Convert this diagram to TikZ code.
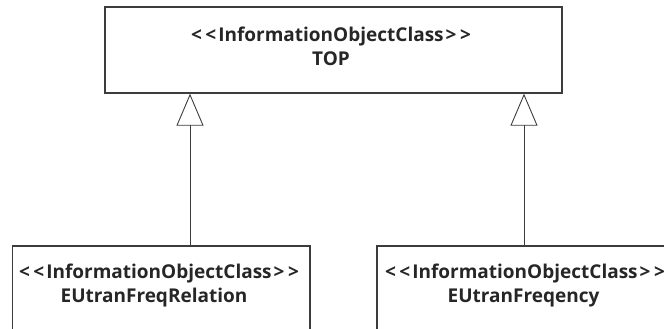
\documentclass[tikz,border=0pt]{standalone}
\usepackage{fontspec}
\setmainfont{Open Sans}[Ligatures=NoCommon]
\usetikzlibrary{arrows.meta}
\definecolor{linec}{HTML}{3C3C3C}
\definecolor{textc}{HTML}{262626}
\newcommand{\stereo}[1]{<\kern3.5pt<\kern2pt#1\kern2pt>\kern3.5pt>}
\tikzset{
  classbox/.style={draw=linec, line width=1.3pt, rectangle, inner sep=0pt, text=textc},
  gen/.style={draw=linec, line width=0.9pt, -{Triangle[open, length=32pt, width=27pt, line width=0.9pt]}},
  lbl/.style={font=\fontsize{19}{24}\selectfont\bfseries, text=textc, anchor=base, inner sep=0pt}
}
\begin{document}
\begin{tikzpicture}[x=1pt,y=1pt]
\useasboundingbox (0,-329) rectangle (664,0);
\clip (0,-329) rectangle (664,0);
\node[classbox, minimum width=457pt, minimum height=86pt] (top) at (333.5,-50) {};
\node[lbl] (t1) at (331,-42) {\stereo{InformationObjectClass}};
\node[lbl] (t2) at (331,-66) {TOP};
\node[classbox, minimum width=297.3pt, minimum height=120pt] (left) at (161.35,-306) {};
\node[lbl] (l1) at (159,-278) {\stereo{InformationObjectClass}};
\node[lbl] (l2) at (154,-302) {EUtranFreqRelation};
\node[classbox, minimum width=294pt, minimum height=120pt] (right) at (524,-306) {};
\node[lbl] (r1) at (525,-278) {\stereo{InformationObjectClass}};
\node[lbl] (r2) at (523.5,-302) {EUtranFreqency};
\coordinate (ax1) at (190,0);
\coordinate (ax2) at (524,0);
\draw[gen] (ax1 |- left.north) -- (ax1 |- top.south);
\draw[gen] (ax2 |- right.north) -- (ax2 |- top.south);
\end{tikzpicture}
\end{document}
